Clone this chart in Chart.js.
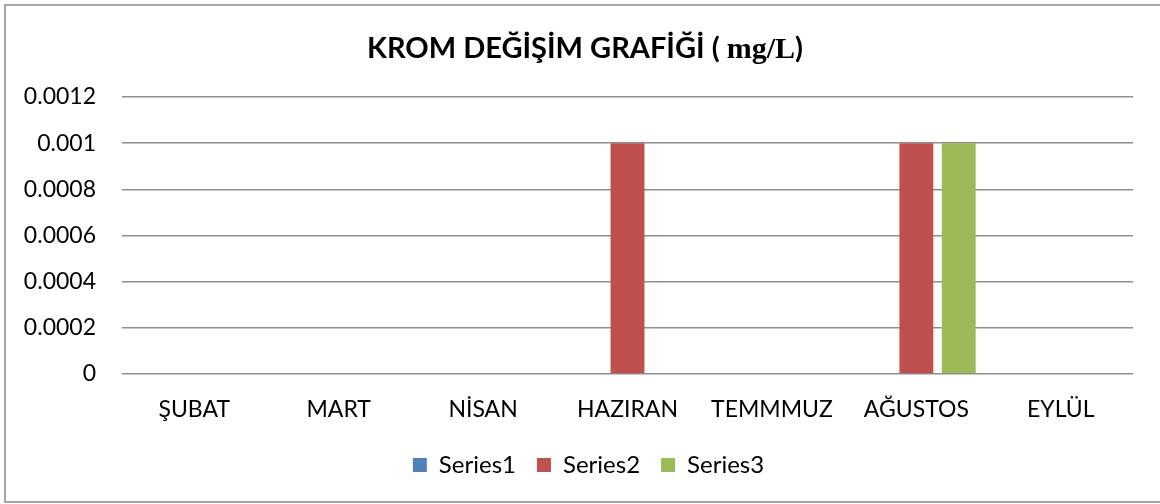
<!DOCTYPE html>
<html>
<head>
<meta charset="utf-8">
<script src="https://cdn.jsdelivr.net/npm/chart.js@4/dist/chart.umd.min.js"></script>
<style>
    html, body { margin: 0; padding: 0; background: #fff; }
    #wrap { width: 1160px; height: 504px; }
</style>
</head>
<body>
<div id="wrap"><canvas id="chart" width="1160" height="504"></canvas></div>
<script>
const categories  = ['ŞUBAT', 'MART', 'NİSAN', 'HAZIRAN', 'TEMMMUZ', 'AĞUSTOS', 'EYLÜL'];
const series1     = [0, 0, 0, 0, 0, 0, 0];
const series2     = [0, 0, 0, 0.001, 0, 0.001, 0];
const series3     = [0, 0, 0, 0, 0, 0.001, 0];
const yTickLabels = ['0', '0.0002', '0.0004', '0.0006', '0.0008', '0.001', '0.0012'];

const FONT = 'Lato, "Open Sans", sans-serif';

// title has mixed fonts (sans + serif "mg/L"), so draw it by hand
const titlePlugin = {
    id: 'mixedTitle',
    afterLayout(chart) {
        // legend in the reference is centred a bit right of the plot
        chart.legend.left  = 44;
        chart.legend.right = 1133;
    },
    beforeDraw(chart) {
        const c = chart.ctx;
        c.save();
        c.fillStyle = '#fff';
        c.fillRect(0, 0, chart.width, chart.height);
        c.strokeStyle = '#a6a6a6';
        c.lineWidth = 2;
        c.strokeRect(5, 5, chart.width + 10, 497);
        c.restore();
    },
    afterDraw(chart) {
        const c = chart.ctx;
        const parts = [
            { t: 'KROM DEĞİŞİM GRAFİĞİ ( ', f: 'bold 29px ' + FONT },
            { t: 'mg/L', f: 'bold 30px "Liberation Serif", "DejaVu Serif", serif' },
            { t: ')', f: 'bold 29px ' + FONT },
        ];
        c.save();
        c.fillStyle = '#000';
        c.textBaseline = 'alphabetic';
        let total = 0;
        parts.forEach(p => { c.font = p.f; p.w = c.measureText(p.t).width; total += p.w; });
        let x = 585 - total / 2;
        parts.forEach(p => { c.font = p.f; c.fillText(p.t, x, 58); x += p.w; });
        c.restore();
    }
};

new Chart(document.getElementById('chart').getContext('2d'), {
    type: 'bar',
    data: {
        labels: categories,
        datasets: [
            { label: 'Series1', data: series1, backgroundColor: '#4f81bd' },
            { label: 'Series2', data: series2, backgroundColor: '#c0504d' },
            { label: 'Series3', data: series3, backgroundColor: '#9bbb59' },
        ],
    },
    options: {
        responsive: false,
        animation: false,
        layout: { padding: { top: 97, right: 27, bottom: 17, left: 0 } },
        datasets: { bar: { categoryPercentage: 0.88, barPercentage: 0.8 } },
        plugins: {
            title: { display: false },
            tooltip: { enabled: false },
            legend: {
                position: 'bottom',
                labels: {
                    color: '#000',
                    boxWidth: 14,
                    boxHeight: 14,
                    padding: 21,
                    font: { family: FONT, size: 24 },
                },
            },
        },
        scales: {
            x: {
                grid:   { display: false },
                border: { display: false },
                ticks:  { color: '#000', padding: 14, maxRotation: 0, font: { family: FONT, size: 23 } },
                afterFit: s => { s.height = 58; },
            },
            y: {
                min: 0,
                max: 0.0012,
                grid:   { color: '#8e8e8e', lineWidth: 1.5, drawTicks: false },
                border: { display: false },
                ticks:  {
                    stepSize: 0.0002,
                    color: '#000',
                    padding: 26,
                    font: { family: FONT, size: 23 },
                    callback: (v, i) => yTickLabels[i],
                },
                afterFit: s => { s.width = 122; },
            },
        },
    },
    plugins: [titlePlugin],
});
</script>
</body>
</html>
